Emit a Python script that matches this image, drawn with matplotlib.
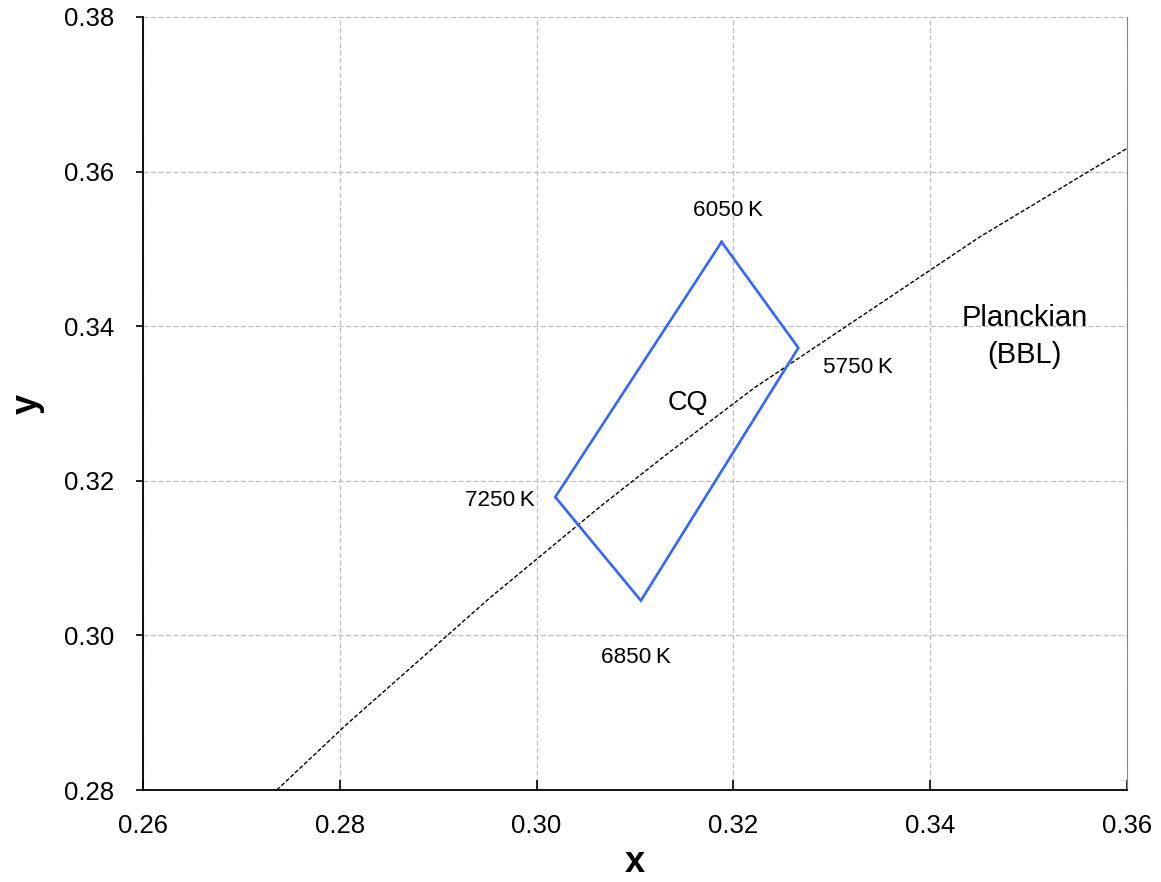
import matplotlib
matplotlib.use("Agg")
import matplotlib.pyplot as plt

plt.rcParams['font.family'] = ['Liberation Sans', 'DejaVu Sans']

# CQ quadrangle vertices (x, y) and their CCT labels
quad_labels = ["6050\u2009K", "5750\u2009K", "6850\u2009K", "7250\u2009K"]
quad_x = [0.3188, 0.3266, 0.3106, 0.3019]
quad_y = [0.3509, 0.3372, 0.3045, 0.3179]

# label positions for the vertices
lab_x = [0.3195, 0.3327, 0.3101, 0.2963]
lab_y = [0.3550, 0.3347, 0.2972, 0.3175]

# Planckian locus (black body line) samples
bbl_x = [0.2736, 0.2807, 0.2952, 0.3064, 0.3135, 0.3221, 0.3451, 0.3600]
bbl_y = [0.2800, 0.2885, 0.3048, 0.3166, 0.3237, 0.3320, 0.3516, 0.3630]

x_ticks = [0.26, 0.28, 0.30, 0.32, 0.34, 0.36]
y_ticks = [0.28, 0.30, 0.32, 0.34, 0.36, 0.38]

fig = plt.figure(figsize=(11.61, 8.82), dpi=100)
ax = fig.add_axes([143/1161, 92/882, (1127-143)/1161, (790-17)/882])

ax.set_xlim(0.26, 0.36)
ax.set_ylim(0.28, 0.38)
ax.set_xticks(x_ticks)
ax.set_yticks(y_ticks)
ax.set_xticklabels([f"{v:.2f}" for v in x_ticks])
ax.set_yticklabels([f"{v:.2f}" for v in y_ticks])

ax.grid(True, color='#bdbdbd', linestyle=(0, (4, 2)), linewidth=0.9)
ax.set_axisbelow(True)

ax.plot(bbl_x, bbl_y, color='black', linestyle=(0, (3, 1.5)), linewidth=1.0, zorder=3)

px = quad_x + [quad_x[0]]
py = quad_y + [quad_y[0]]
ax.plot(px, py, color='#3366ff', linewidth=1.9, zorder=4, solid_joinstyle='miter')

for t, lx, ly in zip(quad_labels, lab_x, lab_y):
    ax.text(lx, ly, t, fontsize=16.2, ha='center', va='center', color='black')

ax.text(0.3154, 0.3301, "CQ", fontsize=19.5, ha='center', va='center')
ax.text(0.3496, 0.3387, "Planckian\n(BBL)", fontsize=21, ha='center', va='center',
        linespacing=1.4)

ax.set_xlabel("x", fontsize=26, fontweight='bold', labelpad=5)
ax.set_ylabel("y", fontsize=26, fontweight='bold', labelpad=14)

ax.spines['top'].set_visible(False)
ax.spines['right'].set_color('#888888')
ax.spines['left'].set_color('black')
ax.spines['bottom'].set_color('black')
ax.spines['left'].set_linewidth(1.3)
ax.spines['bottom'].set_linewidth(1.3)

ax.tick_params(axis='y', direction='out', length=5, width=1.2, labelsize=18.5, pad=15.5)
ax.tick_params(axis='x', direction='in', length=7, width=1.2, labelsize=18.5, pad=17.5)

fig.savefig("out.png", dpi=100)
